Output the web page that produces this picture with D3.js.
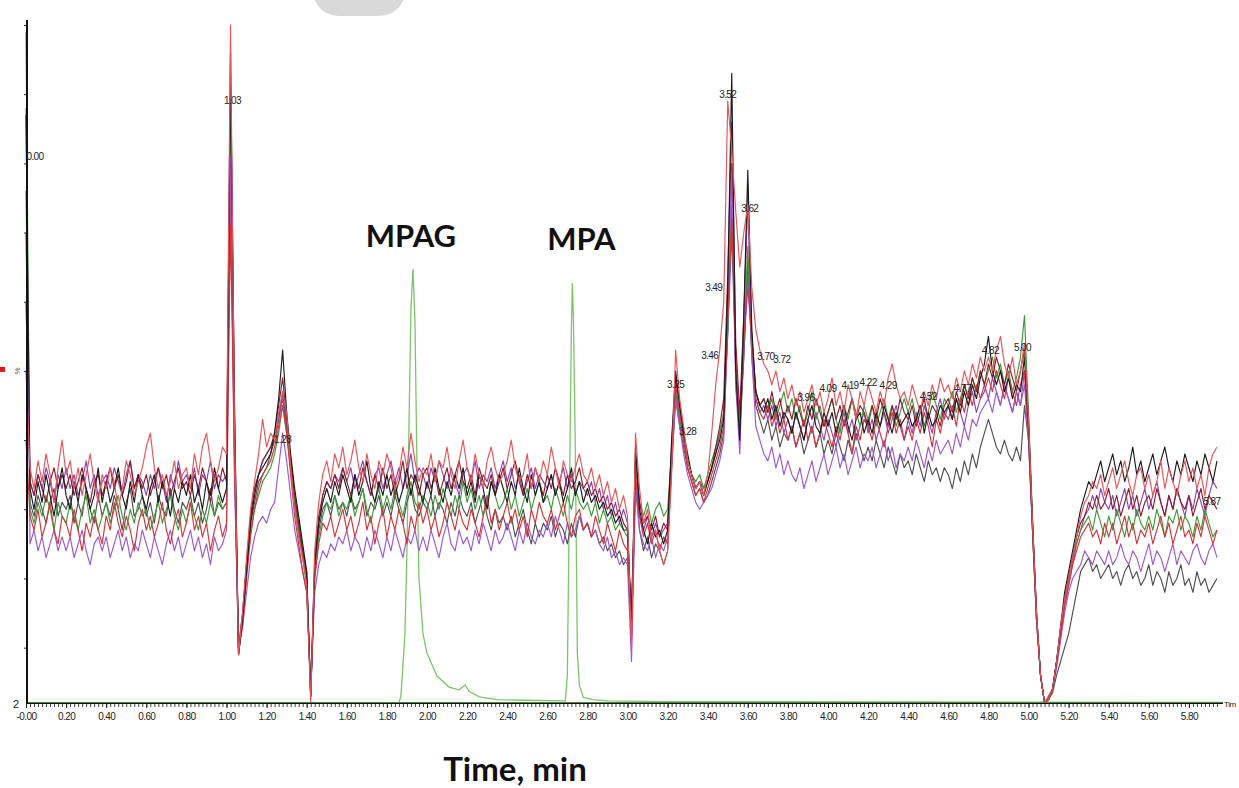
<!DOCTYPE html>
<html>
<head>
<meta charset="utf-8">
<script src="https://cdn.jsdelivr.net/npm/d3@7"></script>
<style>
  body { margin: 0; background: #fff; }
  svg { display: block; }
</style>
</head>
<body>
<svg id="chart" width="1239" height="788"></svg>
<script>
// sampling of the noisy traces: one value every 0.02 min from 0.00
var DT = 0.02;

var redA = [
  50,36,33,37,34,38,35,31,36,40,
  35,37,33,36,32,35,38,34,31,35,
  33,36,34,30,33,37,35,32,34,36,
  39,41,36,33,35,32,34,37,33,35,
  36,33,38,35,39,41,37,34,36,39,
  38,100,42,9,15,23,30,34,38,43,
  39,41,40,44,47,44,36,30,26,23,
  19,2,24,31,35,37,34,38,36,39,
  35,37,40,36,34,38,35,33,37,35,
  38,36,33,35,39,36,41,37,34,36,
  35,38,34,37,36,39,35,33,37,40,
  36,34,38,35,33,37,39,36,34,35,
  37,40,36,34,35,38,33,36,34,37,
  35,39,36,33,37,35,34,36,38,35,
  34,36,33,35,32,34,31,33,30,32,
  29,10,41,33,28,30,26,27,24,22,
  24,35,53,46,42,37,35,33,34,32,
  35,41,48,53,60,89,82,73,65,70,
  74,62,56,53,51,50,48,50,47,49,
  46,48,45,47,44,46,48,45,47,44,
  46,49,45,47,44,48,46,43,47,45,
  48,46,44,47,45,49,51,48,46,47,
  45,48,46,44,47,45,48,46,49,47,
  48,46,49,47,50,48,51,49,52,50,
  52,50,53,55,51,49,52,48,50,54,
  43,28,15,6,2,2.5,4,8,13,17,
  20,23,26,29,31,32,34,33,35,32,
  34,36,33,35,37,34,32,35,36,33,
  35,32,34,37,33,36,34,32,35,37,
  34,36,33,35,32,36,38,39
];

var redB = [
  40,29,27,30,26,28,31,27,25,29,
  28,26,30,27,24,28,26,29,27,25,
  29,27,31,28,26,29,27,24,28,30,
  27,29,26,28,31,27,25,28,30,26,
  28,31,27,29,26,28,24,27,29,26,
  28,71,36,10,13,20,26,30,33,35,
  36,37,39,42,45,41,35,29,25,21,
  18,4,20,25,28,27,29,26,28,30,
  27,29,26,28,31,27,29,25,28,30,
  26,29,27,30,28,25,29,27,31,28,
  30,27,29,26,28,31,29,27,30,28,
  27,30,28,26,29,32,28,30,27,29,
  31,28,30,27,29,26,30,28,31,29,
  28,30,27,29,31,28,26,29,30,27,
  28,26,29,27,25,28,26,24,27,25,
  24,11,35,29,26,28,25,27,24,26,
  25,37,48,44,40,36,34,32,33,31,
  33,35,37,39,42,58,72,52,42,55,
  62,55,46,44,43,45,42,44,41,43,
  40,42,39,41,43,40,42,39,41,43,
  41,39,42,40,43,41,38,42,40,43,
  42,40,43,41,39,42,44,41,43,40,
  42,40,43,41,44,42,39,43,41,44,
  43,45,42,46,44,47,45,48,46,47,
  49,47,50,48,46,49,47,45,48,50,
  41,27,14,6,2,3,4,8,12,16,
  19,22,24,26,27,28,26,27,25,28,
  26,28,25,27,29,26,28,25,27,26,
  28,25,27,29,26,28,25,27,29,26,
  27,25,28,26,29,27,25,27
];

var blackA = [
  87,33,30,34,31,35,32,29,33,36,
  32,30,34,31,35,33,30,32,36,31,
  34,31,33,36,32,30,34,31,35,32,
  30,33,35,31,34,32,29,33,31,34,
  32,35,31,33,30,34,32,36,33,31,
  33,93,45,9,14,21,28,32,35,36,
  37,38,41,46,53,44,38,33,29,25,
  21,3,22,28,31,33,31,34,32,35,
  33,31,35,32,34,37,33,31,34,32,
  35,32,34,31,33,36,32,35,33,31,
  34,32,36,33,31,34,32,35,33,36,
  32,34,31,35,33,30,34,32,35,33,
  31,34,32,36,33,31,35,32,34,31,
  33,35,32,34,31,33,36,32,34,31,
  33,31,32,30,31,29,30,28,29,27,
  27,14,39,30,27,25,28,26,27,25,
  27,40,50,45,41,38,35,33,34,32,
  34,36,38,40,43,62,93,50,40,58,
  79,56,47,45,44,46,43,45,42,44,
  43,41,44,42,40,43,45,42,41,44,
  42,44,41,43,45,42,40,43,44,41,
  43,41,44,42,45,43,41,44,42,43,
  44,42,43,45,41,44,42,43,45,44,
  45,43,46,44,47,45,48,46,49,51,
  55,50,48,50,47,49,46,48,47,52,
  42,28,15,6,2,2.5,4,8,13,18,
  21,24,27,30,32,34,33,35,37,34,
  36,38,35,37,34,36,39,35,37,34,
  36,38,35,37,39,36,34,37,35,38,
  36,34,37,35,38,36,34,37
];

var blackB = [
  70,31,29,32,30,28,31,33,29,31,
  30,32,28,31,29,33,30,28,32,29,
  31,29,32,30,27,31,33,29,30,32,
  29,31,28,32,30,29,33,30,28,31,
  30,32,29,31,28,30,33,29,31,30,
  31,86,38,10,15,22,28,31,34,35,
  36,38,40,43,47,42,36,31,27,23,
  20,3,21,27,30,31,29,32,30,31,
  29,32,30,31,33,29,31,30,32,29,
  31,29,32,30,28,31,33,30,29,31,
  30,32,29,31,30,28,31,29,32,30,
  29,31,28,30,32,29,27,30,28,29,
  27,29,26,28,30,27,25,28,26,28,
  27,29,26,28,27,25,28,26,29,27,
  28,26,27,25,26,24,25,23,24,22,
  23,16,34,27,24,26,23,25,24,22,
  24,36,46,42,39,36,34,32,33,31,
  32,34,36,38,41,56,80,48,41,52,
  66,52,45,43,41,43,40,42,39,41,
  40,42,39,41,38,40,42,39,41,38,
  40,38,41,39,37,40,38,41,39,37,
  39,37,40,38,36,39,37,35,38,36,
  37,35,38,36,34,37,35,36,34,36,
  35,33,36,34,37,35,38,36,39,41,
  43,41,39,38,40,38,37,39,37,45,
  40,27,14,6,2,2.5,3.5,6,8,10,
  12,15,18,21,22,23,21,22,20,21,
  22,20,21,19,21,22,20,21,19,20,
  22,19,21,20,18,21,19,20,22,19,
  20,18,21,19,20,18,19,20
];

var purpleA = [
  88,25,27,24,26,23,25,27,24,26,
  24,26,23,25,27,24,22,25,26,24,
  26,23,25,27,24,26,23,25,24,27,
  25,23,26,24,22,25,27,24,26,23,
  25,27,24,26,23,25,22,26,24,25,
  27,81,34,10,13,18,23,26,28,29,
  28,30,31,36,41,37,32,27,24,21,
  18,4,18,22,24,23,25,24,26,25,
  27,24,26,25,23,26,24,27,25,23,
  26,24,27,25,23,26,25,27,24,26,
  24,27,25,23,26,28,25,24,27,25,
  26,24,27,25,28,26,24,27,25,26,
  28,26,24,27,25,28,26,25,27,26,
  28,26,29,27,25,28,26,27,29,27,
  28,26,27,25,24,26,23,24,22,23,
  22,8,33,27,25,24,26,23,25,24,
  26,36,46,42,38,35,33,31,30,31,
  32,33,35,37,40,58,79,48,38,56,
  77,52,42,40,38,37,39,36,38,35,
  37,35,34,36,33,35,37,34,36,38,
  35,37,39,36,38,35,37,39,36,38,
  37,39,36,38,40,37,39,36,38,37,
  39,37,40,38,36,39,37,40,38,39,
  40,38,41,39,42,40,43,42,44,45,
  46,44,47,45,48,46,44,47,45,48,
  40,27,14,6,2,2.5,4,7,11,15,
  18,20,21,22,24,23,22,24,23,22,
  24,22,23,25,23,22,24,23,21,23,
  25,22,24,23,21,23,25,22,24,23,
  22,24,25,23,22,24,25,23
];

var purpleB = [
  76,34,32,35,33,36,34,31,35,33,
  36,33,35,32,34,37,33,35,32,34,
  35,33,36,34,32,35,37,33,35,34,
  32,35,33,36,34,31,35,33,37,34,
  35,33,36,32,35,34,37,33,35,34,
  35,76,38,10,15,22,29,33,35,37,
  38,39,40,43,46,42,37,32,28,24,
  20,3,21,28,32,34,33,35,34,36,
  34,36,33,35,37,34,32,35,36,33,
  35,37,34,36,33,35,38,34,36,35,
  33,36,34,37,35,33,36,34,32,35,
  36,34,37,33,35,34,36,33,35,37,
  34,36,33,35,32,34,36,33,35,34,
  33,35,32,34,36,33,35,32,34,33,
  32,34,31,33,30,32,29,31,28,30,
  28,12,34,29,27,29,26,28,26,27,
  28,37,47,43,40,37,35,33,34,33,
  34,36,38,41,44,55,70,50,42,52,
  64,53,46,44,45,43,45,42,44,41,
  43,41,44,42,40,43,41,44,42,40,
  43,41,39,42,44,41,43,40,42,44,
  41,43,40,42,44,41,43,45,42,40,
  43,41,44,42,45,43,41,44,46,43,
  45,43,46,44,42,45,47,44,46,48,
  46,49,47,45,48,46,44,47,45,50,
  41,27,14,6,2,2.5,4,8,12,16,
  19,22,25,27,29,30,32,30,33,31,
  30,32,29,31,33,30,32,29,31,33,
  30,32,34,31,29,32,30,33,31,29,
  32,30,33,31,29,32,34,33
];

var greenA = [
  99,30,28,31,29,32,30,27,31,29,
  28,31,29,27,30,32,28,30,27,29,
  31,28,30,32,29,27,30,28,31,29,
  30,27,29,31,28,30,32,29,27,30,
  28,31,29,27,30,28,31,29,32,30,
  31,89,40,9,14,21,27,30,32,34,
  35,36,38,41,45,41,36,31,27,23,
  19,3,20,26,29,31,30,32,29,31,
  30,32,29,31,33,30,28,31,33,30,
  32,30,33,31,29,32,34,31,30,32,
  31,29,32,30,33,31,29,32,30,34,
  31,33,30,32,29,31,34,32,30,31,
  33,30,32,29,31,33,30,32,34,31,
  32,30,33,31,29,32,30,33,31,30,
  31,29,31,28,30,28,29,27,28,27,
  26,12,36,31,29,31,28,30,31,29,
  30,38,47,43,40,37,35,34,35,33,
  35,37,39,41,44,56,74,51,43,54,
  68,54,47,45,46,44,46,43,45,47,
  44,46,43,45,42,44,47,43,45,42,
  44,46,43,41,45,43,46,44,42,45,
  43,45,42,44,46,43,45,42,44,46,
  44,46,43,45,42,44,47,45,43,46,
  45,47,44,46,48,46,49,47,50,48,
  50,52,49,51,48,50,47,49,52,58,
  44,29,15,6,2,2.5,4,8,13,17,
  20,23,25,27,28,29,27,30,28,26,
  29,27,30,28,26,29,27,30,28,27,
  29,27,30,28,26,29,28,30,27,29,
  28,26,29,27,30,28,26,27
];

var maroon = [
  60,34,32,35,33,31,34,36,33,35,
  33,35,32,34,36,33,31,34,35,32,
  34,36,33,35,32,34,37,33,35,33,
  35,32,34,36,33,35,32,34,36,33,
  34,32,35,33,36,34,31,35,33,36,
  34,96,44,9,14,22,29,33,35,37,
  38,39,41,45,49,43,37,32,28,24,
  21,3,23,29,32,34,33,35,33,36,
  34,32,35,33,36,34,32,35,33,36,
  33,35,32,34,37,33,35,34,32,35,
  36,33,35,32,34,36,33,35,37,34,
  33,35,32,36,34,33,35,32,34,36,
  33,35,37,34,32,35,33,36,34,32,
  35,33,36,34,32,35,33,34,36,33,
  34,32,33,31,32,30,31,29,30,28,
  27,13,38,31,28,29,27,29,26,28,
  27,39,49,45,41,37,35,33,34,32,
  34,36,39,42,46,64,86,54,44,58,
  75,55,47,45,46,44,47,44,46,43,
  45,43,46,44,42,45,43,46,44,42,
  44,46,43,45,42,44,46,43,45,44,
  42,45,43,46,44,42,45,43,46,44,
  43,45,42,44,46,43,45,44,42,45,
  46,44,47,45,48,46,49,47,50,48,
  51,49,52,50,48,51,49,47,50,53,
  43,28,15,6,2,2.5,4,8,12,17,
  20,23,26,28,29,31,30,32,30,31,
  33,30,32,29,31,33,30,32,29,31,
  32,30,33,31,29,32,30,33,31,30,
  32,29,31,33,30,32,31,30
];

// MPAG / MPA trace (smooth), [time, value]
var mpaTimes  = [0, 1.86, 1.87, 1.89, 1.90, 1.91, 1.92, 1.93, 1.94, 1.95, 1.96, 1.98, 2.00, 2.05, 2.11, 2.16, 2.19, 2.21, 2.26, 2.35, 2.50, 2.69, 2.70, 2.71, 2.72, 2.725, 2.73, 2.74, 2.75, 2.76, 2.78, 2.83, 2.90, 3.20, 5.97];
var mpaValues = [2, 2, 3, 12, 24, 42, 59, 64.7, 57, 36, 20, 12, 9.2, 5.9, 4.3, 3.9, 4.6, 3.7, 2.9, 2.5, 2.4, 2.3, 6, 31, 56, 62.7, 58, 38, 9.2, 4.5, 2.8, 2.5, 2.3, 2.2, 2.1];

// peak labels: centre time, text, level
var peakTimes  = [0.045, 1.03, 1.28, 3.24, 3.30, 3.41, 3.43, 3.50, 3.61, 3.69, 3.77, 3.89, 4.00, 4.11, 4.20, 4.30, 4.50, 4.67, 4.81, 4.97, 5.915];
var peakTexts  = ["0.00", "1.03", "1.28", "3.25", "3.28", "3.46", "3.49", "3.52", "3.62", "3.70", "3.72", "3.96", "4.09", "4.19", "4.22", "4.29", "4.52", "4.77", "4.82", "5.00", "5.87"];
var peakLevels = [80.5, 88.6, 39.6, 47.5, 40.7, 51.7, 61.6, 89.5, 73, 51.6, 51.1, 45.7, 47, 47.4, 47.8, 47.4, 45.8, 47, 52.4, 52.9, 30.6];

var width = 1239, height = 788;
var svg = d3.select("#chart");

var x = d3.scaleLinear().domain([0, 6]).range([26, 1229]);
var y = d3.scaleLinear().domain([2, 100]).range([703, 25]);

// grey blob at the top edge
svg.append("rect")
    .attr("x", 313).attr("y", -34)
    .attr("width", 92).attr("height", 50)
    .attr("rx", 26)
    .attr("fill", "#d9d9d9");

var line = d3.line()
    .x(function(d) { return x(d[0]); })
    .y(function(d) { return y(d[1]); });

function sampled(values) {
  return values.map(function(v, i) { return [i * DT, v]; });
}

var traces = [
  { name: "blackB",  values: blackB,  color: "#505050" },
  { name: "purpleB", values: purpleB, color: "#8a45b5" },
  { name: "greenA",  values: greenA,  color: "#3f9a3a" },
  { name: "maroon",  values: maroon,  color: "#8c1d2e" },
  { name: "purpleA", values: purpleA, color: "#9d58d0" },
  { name: "redB",    values: redB,    color: "#d3343a" },
  { name: "blackA",  values: blackA,  color: "#1c1c1c" },
  { name: "redA",    values: redA,    color: "#e6555a" }
];

// MPAG / MPA green trace underneath
svg.append("path")
    .datum(mpaTimes.map(function(t, i) { return [t, mpaValues[i]]; }))
    .attr("fill", "none")
    .attr("stroke", "#7dc46c")
    .attr("stroke-width", 1.3)
    .attr("d", line);

svg.selectAll(".trace")
    .data(traces)
  .enter().append("path")
    .attr("class", "trace")
    .attr("fill", "none")
    .attr("stroke", function(d) { return d.color; })
    .attr("stroke-width", 1.15)
    .attr("stroke-linejoin", "round")
    .attr("d", function(d) { return line(sampled(d.values)); });

// axes
var minorTicks = d3.range(0, 298).map(function(i) { return i * DT; });
var majorTicks = d3.range(0, 30).map(function(i) { return i * 0.2; });

var xMinor = svg.append("g")
    .attr("transform", "translate(0,704)")
    .call(d3.axisBottom(x).tickValues(minorTicks).tickSize(3).tickFormat(""));
xMinor.select(".domain").remove();
xMinor.selectAll("line").attr("stroke", "#444");

var xMajor = svg.append("g")
    .attr("transform", "translate(0,704)")
    .call(d3.axisBottom(x).tickValues(majorTicks).tickSize(4).tickPadding(5)
      .tickFormat(function(d) { return d === 0 ? "-0.00" : d3.format(".2f")(d); }));
xMajor.select(".domain").remove();
xMajor.selectAll("line").attr("stroke", "#222");
xMajor.selectAll("text")
    .attr("font-family", "'Liberation Sans', Arial, sans-serif")
    .attr("font-size", 10)
    .attr("letter-spacing", "-0.6")
    .attr("fill", "#222");

svg.append("line")
    .attr("x1", x(0)).attr("x2", x(5.97))
    .attr("y1", 703).attr("y2", 703)
    .attr("stroke", "#111").attr("stroke-width", 2.2);
svg.append("line")
    .attr("x1", x(0)).attr("x2", x(5.97))
    .attr("y1", 702.5).attr("y2", 702.5)
    .attr("stroke", "#5e9e4a").attr("stroke-width", 0.8);

var yAxis = svg.append("g")
    .attr("transform", "translate(" + (x(0) + 1) + ",0)")
    .call(d3.axisLeft(y).tickValues(d3.range(10, 101, 10)).tickSize(3).tickFormat(""));
yAxis.select(".domain").remove();
yAxis.selectAll("line").attr("stroke", "#333");

svg.append("line")
    .attr("x1", x(0) + 1).attr("x2", x(0) + 1)
    .attr("y1", 20).attr("y2", 704)
    .attr("stroke", "#111").attr("stroke-width", 2);

svg.append("text")
    .attr("x", 19).attr("y", 708)
    .attr("text-anchor", "end")
    .attr("font-family", "'Liberation Sans', Arial, sans-serif")
    .attr("font-size", 11)
    .attr("fill", "#222")
    .text("2");

svg.append("text")
    .attr("transform", "translate(20," + y(50) + ") rotate(-90)")
    .attr("text-anchor", "middle")
    .attr("font-family", "'Liberation Sans', Arial, sans-serif")
    .attr("font-size", 8)
    .attr("fill", "#555")
    .text("%");

svg.append("rect")
    .attr("x", 0).attr("y", y(50) - 4)
    .attr("width", 5).attr("height", 5)
    .attr("fill", "#e3161b");

svg.append("text")
    .attr("x", 1224).attr("y", 707)
    .attr("font-family", "'Liberation Sans', Arial, sans-serif")
    .attr("font-size", 8)
    .attr("letter-spacing", "-0.4")
    .attr("fill", "#222")
    .text("Tim");

// peak labels
svg.selectAll(".peak")
    .data(peakTexts)
  .enter().append("text")
    .attr("class", "peak")
    .attr("x", function(d, i) { return x(peakTimes[i]); })
    .attr("y", function(d, i) { return y(peakLevels[i]); })
    .attr("text-anchor", "middle")
    .attr("font-family", "'Liberation Sans', Arial, sans-serif")
    .attr("font-size", 10)
    .attr("letter-spacing", "-0.6")
    .attr("fill", "#222")
    .text(function(d) { return d; });

// compound names and axis title
svg.append("text")
    .attr("x", x(1.92)).attr("y", 247)
    .attr("text-anchor", "middle")
    .attr("font-family", "Lato, 'Open Sans', sans-serif")
    .attr("font-weight", "bold")
    .attr("font-size", 31)
    .attr("fill", "#111")
    .text("MPAG");

svg.append("text")
    .attr("x", x(2.77)).attr("y", 250)
    .attr("text-anchor", "middle")
    .attr("font-family", "Lato, 'Open Sans', sans-serif")
    .attr("font-weight", "bold")
    .attr("font-size", 31)
    .attr("fill", "#111")
    .text("MPA");

svg.append("text")
    .attr("x", 515).attr("y", 781)
    .attr("text-anchor", "middle")
    .attr("font-family", "Lato, 'Open Sans', sans-serif")
    .attr("font-weight", "bold")
    .attr("font-size", 33)
    .attr("fill", "#111")
    .text("Time, min");
</script>
</body>
</html>
